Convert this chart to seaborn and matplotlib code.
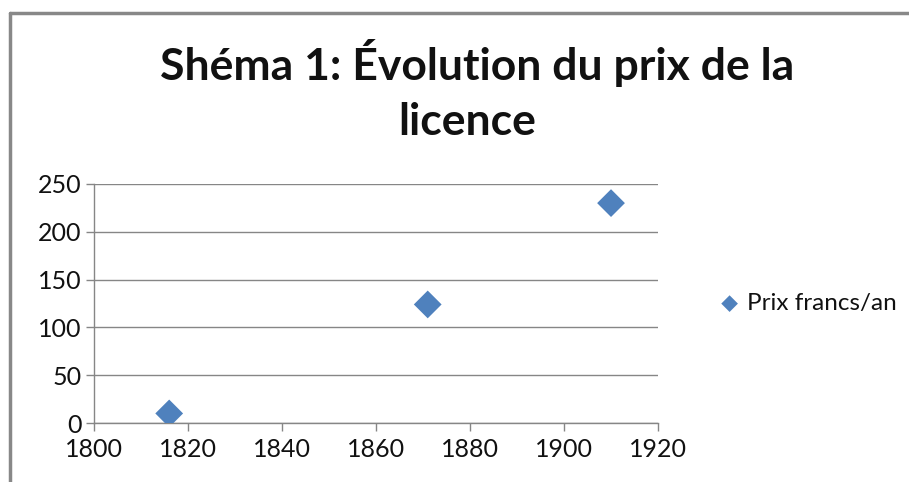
import pandas as pd
import matplotlib
matplotlib.use("Agg")
import matplotlib.pyplot as plt
import seaborn as sns

# Data
annees = [1816, 1871, 1910]
prix = [10, 124, 230]
serie = "Prix francs/an"
titre = ["Shéma 1: Évolution du prix de la", "licence"]
x_ticks = [1800, 1820, 1840, 1860, 1880, 1900, 1920]
y_ticks = [0, 50, 100, 150, 200, 250]

df = pd.DataFrame({"annee": annees, "prix": prix})

sns.set_style("white")
plt.rcParams['font.family'] = ['Lato', 'DejaVu Sans']

fig = plt.figure(figsize=(9.09, 4.82), dpi=100)
ax = fig.add_axes([0.1034, 0.1224, 0.6205, 0.4959])

sns.scatterplot(data=df, x="annee", y="prix", marker="D", color="#4F81BD",
                s=200, edgecolor="none", label=serie, ax=ax, zorder=3)

ax.set_xlim(1800, 1920)
ax.set_ylim(0, 250)
ax.set_xticks(x_ticks)
ax.set_yticks(y_ticks)
ax.set_xlabel("")
ax.set_ylabel("")
ax.grid(axis="y", color="#868686", linewidth=1)
ax.grid(axis="x", visible=False)
for side in ["top", "right"]:
    ax.spines[side].set_visible(False)
for side in ["left", "bottom"]:
    ax.spines[side].set_color("#868686")
    ax.spines[side].set_linewidth(1)
ax.tick_params(axis="both", direction="out", length=6, width=1, color="#868686",
               labelsize=18, labelcolor="#111111", pad=4)
ax.tick_params(axis="x", bottom=True, pad=5)
ax.tick_params(axis="y", left=True, pad=3)

# title, two lines as wrapped in the original
fig.text(0.525, 0.834, titre[0], ha="center", va="baseline", fontsize=32,
         fontweight="bold", color="#111111")
fig.text(0.514, 0.720, titre[1], ha="center", va="baseline", fontsize=32,
         fontweight="bold", color="#111111")

leg = ax.legend(loc="center left", bbox_to_anchor=(1.045, 0.5), frameon=False,
                fontsize=17.5, handletextpad=-0.3, markerscale=0.6)
for t in leg.get_texts():
    t.set_color("#111111")

# outer chart frame (top and left edges visible)
fig.add_artist(plt.Line2D([0.011, 1.0], [0.973, 0.973], color="#888888", linewidth=2.5))
fig.add_artist(plt.Line2D([0.011, 0.011], [0.0, 0.973], color="#888888", linewidth=2.5))

fig.savefig("out.png", dpi=100)
